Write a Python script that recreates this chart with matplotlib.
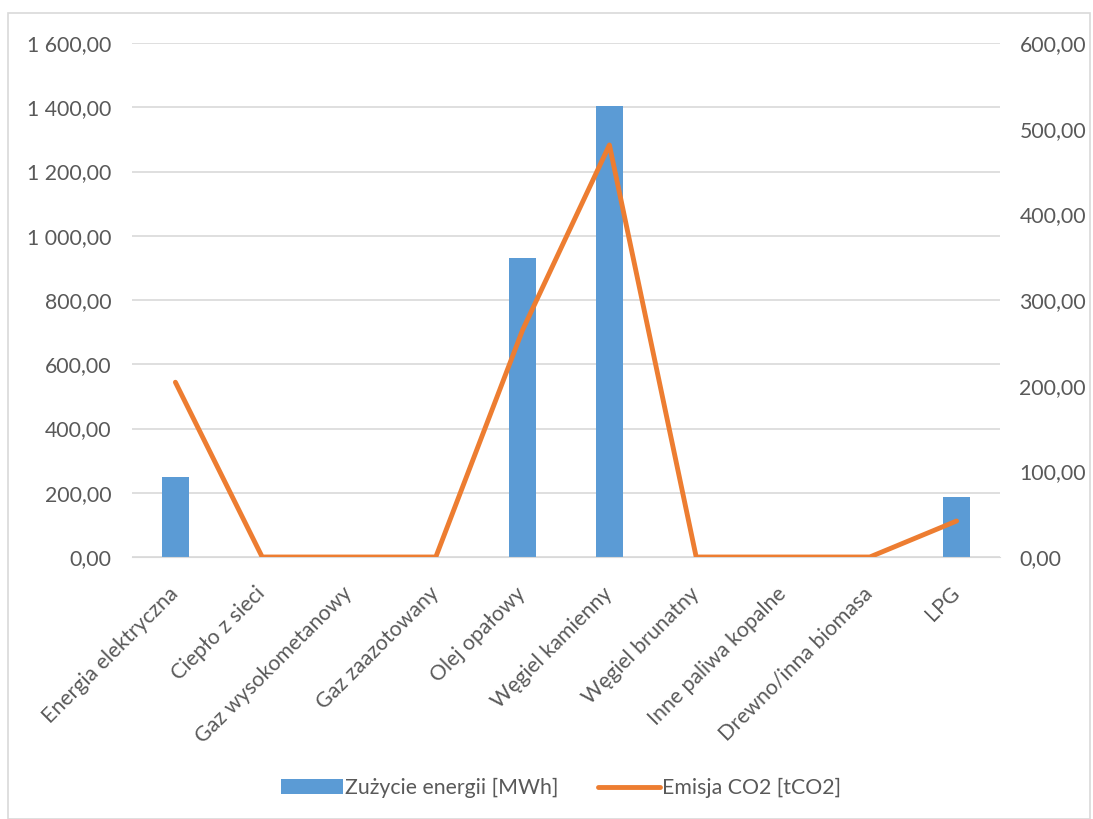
import matplotlib.pyplot as plt
from matplotlib.patches import Rectangle
from matplotlib.ticker import FuncFormatter
import numpy as np

plt.rcParams['font.family'] = ['Lato', 'DejaVu Sans']

# ==== Data ====
categories = ["Energia elektryczna", "Ciepło z sieci", "Gaz wysokometanowy",
              "Gaz zaazotowany", "Olej opałowy", "Węgiel kamienny",
              "Węgiel brunatny", "Inne paliwa kopalne", "Drewno/inna biomasa", "LPG"]
energy_mwh = [250, 0, 0, 0, 930, 1405, 0, 0, 0, 187]
emission_tco2 = [204, 0, 0, 0, 265, 481, 0, 0, 0, 42]

BAR_COLOR = "#5B9BD5"
LINE_COLOR = "#ED7D31"
TEXT_COLOR = "#595959"
GRID_COLOR = "#D9D9D9"
FS = 15.3


def pl_fmt(v, pos=None):
    s = f"{v:,.2f}"
    return s.replace(",", " ").replace(".", ",")


fig = plt.figure(figsize=(10.93, 8.19), dpi=100)
fig.patches.append(Rectangle((8 / 1093, 0), 1082 / 1093, 806 / 819,
                             transform=fig.transFigure, fill=False,
                             edgecolor=GRID_COLOR, linewidth=1.2))

ax = fig.add_axes([132 / 1093, 262 / 819, 868 / 1093, 514 / 819])
x = np.arange(len(categories))
bars = ax.bar(x, energy_mwh, width=0.31, color=BAR_COLOR, zorder=2,
              label="Zużycie energii [MWh]")
ax.set_xlim(-0.5, len(categories) - 0.5)
ax.set_ylim(0, 1600)
ax.set_yticks(np.arange(0, 1601, 200))
ax.yaxis.set_major_formatter(FuncFormatter(pl_fmt))
ax.grid(axis="y", color=GRID_COLOR, linewidth=1.2, zorder=0)
ax.set_xticks(x)
ax.set_xticklabels(categories, rotation=45, ha="right", va="center",
                   rotation_mode="anchor")

ax2 = ax.twinx()
line, = ax2.plot(x, emission_tco2, color=LINE_COLOR, linewidth=3.5,
                 solid_capstyle="round", zorder=3, label="Emisja CO2 [tCO2]")
ax2.set_ylim(0, 600)
ax2.set_yticks(np.arange(0, 601, 100))
ax2.yaxis.set_major_formatter(FuncFormatter(pl_fmt))

for a in (ax, ax2):
    for s in a.spines.values():
        s.set_visible(False)
    a.tick_params(length=0, colors=TEXT_COLOR, labelsize=FS)
ax.tick_params(axis="y", pad=15)
ax.tick_params(axis="x", pad=24)
ax2.tick_params(axis="y", pad=14)
ax.spines["bottom"].set_visible(True)
ax.spines["bottom"].set_color(GRID_COLOR)

fig.legend(handles=[bars, line], labels=[bars.get_label(), line.get_label()],
           loc="center", bbox_to_anchor=(561 / 1093, 1 - 788 / 819), ncol=2,
           frameon=False, fontsize=FS, labelcolor=TEXT_COLOR,
           handlelength=2.9, handletextpad=0.1, columnspacing=1.9)

fig.savefig("out.png", dpi=100)
